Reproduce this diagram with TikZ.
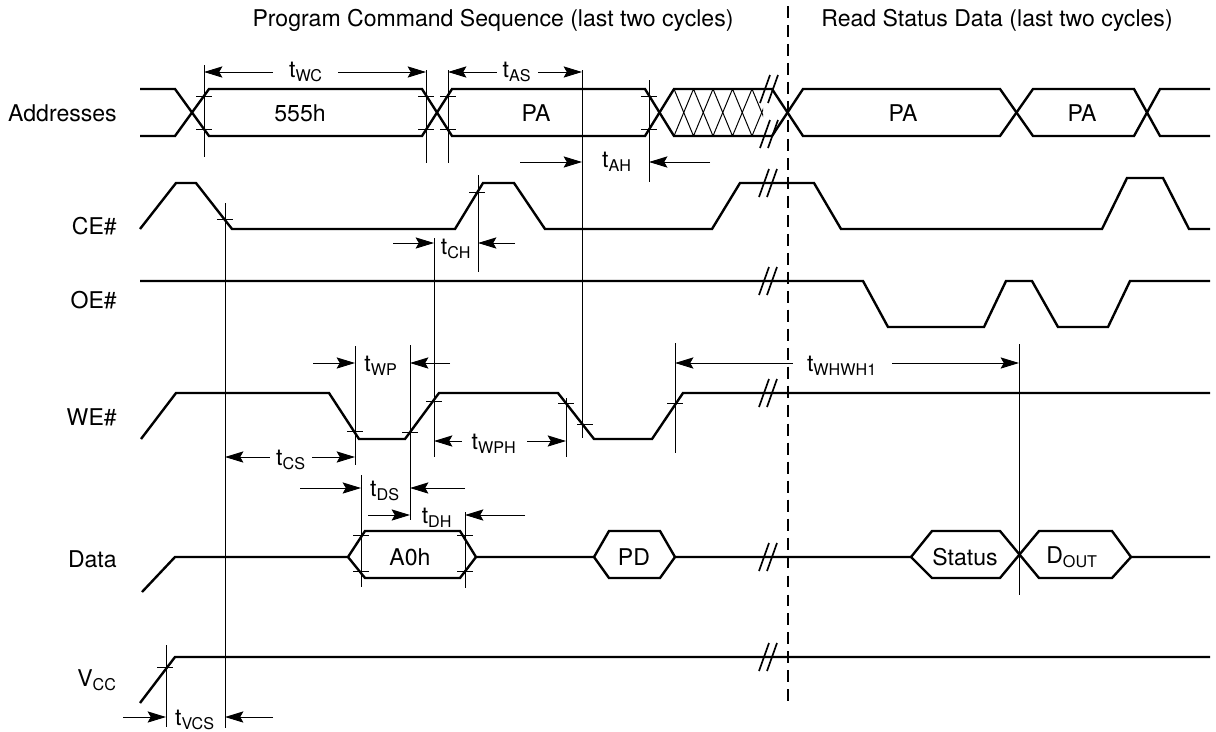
\documentclass[tikz,border=0pt]{standalone}
\usepackage{fontspec}
\setmainfont{TeX Gyre Heros}
\usetikzlibrary{arrows.meta}

\tikzset{
  wave/.style={line width=1.7pt},
  guide/.style={line width=0.7pt},
  dashsep/.style={line width=0.8pt,dash pattern=on 8.5pt off 5pt},
  sig/.style={anchor=east,inner sep=0pt},
}
\newcommand\cutmark[2]{%
  \draw[line width=1.2pt] (#1-9,#2+14) -- (#1+1,#2-14) (#1-1,#2+14) -- (#1+9,#2-14);}
\newcommand\tickmark[2]{\draw[guide] (#1-8,#2) -- (#1+8,#2);}

\begin{document}
\begin{tikzpicture}[x=0.025cm,y=-0.025cm,>={Stealth[length=4.6mm,width=2.8mm,inset=0.8mm]},
    font=\fontsize{16.4}{19.7}\selectfont]
  \useasboundingbox (0,0) rectangle (1216,731);

  % headings and the split between the two phases
  \node (prog) at (493,20) {Program Command Sequence (last two cycles)};
  \node (read) at (997,20) {Read Status Data (last two cycles)};
  \draw[dashsep] (788,6) -- (788,705);

  % signal names
  \node[sig] (addr) at (117,113) {Addresses};
  \node[sig] (ce) at (117,226) {CE\#};
  \node[sig] (oe) at (117,300) {OE\#};
  \node[sig] (we) at (117,417) {WE\#};
  \node[sig] (data) at (117,559) {Data};
  \node[sig] (vcc) at (117,680) {V\textsubscript{CC}};

  % Addresses
  \draw[wave] (140,89) -- (175,89) -- (209,136) -- (422,136) -- (452,89) -- (645,89) -- (674,136) -- (772,136)
    -- (803,89) -- (1000,89) -- (1033,136) -- (1134,136) -- (1160,89) -- (1210,89);
  \draw[wave] (140,136) -- (175,136) -- (209,89) -- (422,89) -- (452,136) -- (645,136) -- (674,89) -- (772,89)
    -- (803,136) -- (1000,136) -- (1033,89) -- (1134,89) -- (1160,136) -- (1210,136);
  \begin{scope}
    \clip (674,89) rectangle (763,136);
    \foreach \x in {674,713,752} {
      \draw[guide] (\x,89) -- (\x+19.5,136) -- (\x+39,89);
      \draw[guide] (\x,136) -- (\x+19.5,89) -- (\x+39,136);
    }
  \end{scope}
  \node (a555) at (300,113) {555h};
  \node (apa) at (536,113) {PA};
  \node (apa2) at (903,113) {PA};
  \node (apa3) at (1082,113) {PA};

  % CE#
  \draw[wave] (140,229) -- (176,183) -- (196,183) -- (232,229) -- (455,229) -- (483,183) -- (514,183)
    -- (545,229) -- (712,229) -- (740,183) -- (814,183) -- (841,229) -- (1102,229) -- (1127,178)
    -- (1163,178) -- (1189,229) -- (1210,229);

  % OE#
  \draw[wave] (140,281) -- (863,281) -- (888,327) -- (984,327) -- (1006,281) -- (1032,281) -- (1058,327)
    -- (1108,327) -- (1130,281) -- (1210,281);

  % WE#
  \draw[wave] (141,439) -- (176,393) -- (329,393) -- (359,439) -- (405,439) -- (439,393) -- (558,393)
    -- (594,439) -- (652,439) -- (683,393) -- (1210,393);

  % Data
  \draw[wave] (142,592) -- (175,557) -- (348,557) -- (365,531) -- (460,531) -- (476,557) -- (594,557)
    -- (609,531) -- (660,531) -- (675,557) -- (911,557) -- (932,531) -- (1000,531) -- (1039,578)
    -- (1112,578) -- (1131,557) -- (1210,557);
  \draw[wave] (348,557) -- (365,578) -- (460,578) -- (476,557);
  \draw[wave] (594,557) -- (609,578) -- (660,578) -- (675,557);
  \draw[wave] (911,557) -- (932,578) -- (1000,578) -- (1039,531) -- (1112,531) -- (1131,557);
  \node (a0h) at (410,557) {A0h};
  \node (pd) at (634,557) {PD};
  \node (stat) at (965,557) {Status};
  \node (dout) at (1072,557) {D\textsubscript{OUT}};

  % VCC
  \draw[wave] (140,703) -- (175,657) -- (1210,657);

  % breaks
  \cutmark{769}{89}
  \cutmark{769}{134}
  \cutmark{768}{183}
  \cutmark{768}{281}
  \cutmark{768}{393}
  \cutmark{768}{557}
  \cutmark{768}{657}

  % reference lines
  \draw[guide] (204,65) -- (204,157);
  \draw[guide] (426,70) -- (426,163);
  \draw[guide] (448,70) -- (448,163);
  \draw[guide] (582,70) -- (582,438);
  \draw[guide] (649,80) -- (649,182);
  \draw[guide] (225,203) -- (225,728);
  \draw[guide] (478,175) -- (478,272);
  \draw[guide] (434,238) -- (434,457);
  \draw[guide] (355,346) -- (355,465);
  \draw[guide] (410,345) -- (410,520);
  \draw[guide] (361,475) -- (361,587);
  \draw[guide] (465,512) -- (465,588);
  \draw[guide] (566,398) -- (566,457);
  \draw[guide] (675,343) -- (675,453);
  \draw[guide] (1019,344) -- (1019,595);
  \draw[guide] (166,645) -- (166,727);

  % crossing ticks
  \tickmark{204}{96} \tickmark{204}{129}
  \tickmark{426}{96} \tickmark{426}{129}
  \tickmark{448}{96} \tickmark{448}{129}
  \tickmark{649}{96} \tickmark{649}{129}
  \tickmark{225}{219} \tickmark{477}{192}
  \tickmark{355}{431} \tickmark{410}{432} \tickmark{434}{401}
  \tickmark{566}{403} \tickmark{585}{424} \tickmark{675}{403}
  \tickmark{361}{535} \tickmark{361}{571} \tickmark{465}{535} \tickmark{465}{571}
  \tickmark{165}{667}

  % timing parameters
  \node (lwc) at (306,72) {t\textsubscript{WC}};
  \draw[guide,<-] (204,72) -- (273,72);
  \draw[guide,->] (338,72) -- (426,72);
  \node (las) at (517,72) {t\textsubscript{AS}};
  \draw[guide,<-] (448,72) -- (497,72);
  \draw[guide,->] (538,72) -- (582,72);
  \node (lah) at (617,162) {t\textsubscript{AH}};
  \draw[guide,->] (520,162) -- (582,162);
  \draw[guide,->] (710,162) -- (649,162);
  \node (lch) at (456,249) {t\textsubscript{CH}};
  \draw[guide,->] (393,243) -- (434,243);
  \draw[guide,->] (515,243) -- (478,243);
  \node (lwp) at (381,366) {t\textsubscript{WP}};
  \draw[guide,->] (313,363) -- (355,363);
  \draw[guide,->] (450,363) -- (410,363);
  \node (lcs) at (291,460) {t\textsubscript{CS}};
  \draw[guide,<-] (225,457) -- (270,457);
  \draw[guide,->] (312,457) -- (355,457);
  \node (lwph) at (494,444) {t\textsubscript{WPH}};
  \draw[guide,<-] (434,441) -- (462,441);
  \draw[guide,->] (527,441) -- (566,441);
  \node (lds) at (385,491) {t\textsubscript{DS}};
  \draw[guide,->] (300,488) -- (361,488);
  \draw[guide,->] (465,488) -- (410,488);
  \node (ldh) at (437,518) {t\textsubscript{DH}};
  \draw[guide,->] (368,515) -- (410,515);
  \draw[guide,->] (525,515) -- (465,515);
  \node (lwhwh) at (842,366) {t\textsubscript{WHWH1}};
  \draw[guide,<-] (675,363) -- (793,363);
  \draw[guide,->] (892,363) -- (1019,363);
  \node (lvcs) at (195,720) {t\textsubscript{VCS}};
  \draw[guide,->] (123,717) -- (166,717);
  \draw[guide,->] (273,717) -- (225,717);
\end{tikzpicture}
\end{document}
